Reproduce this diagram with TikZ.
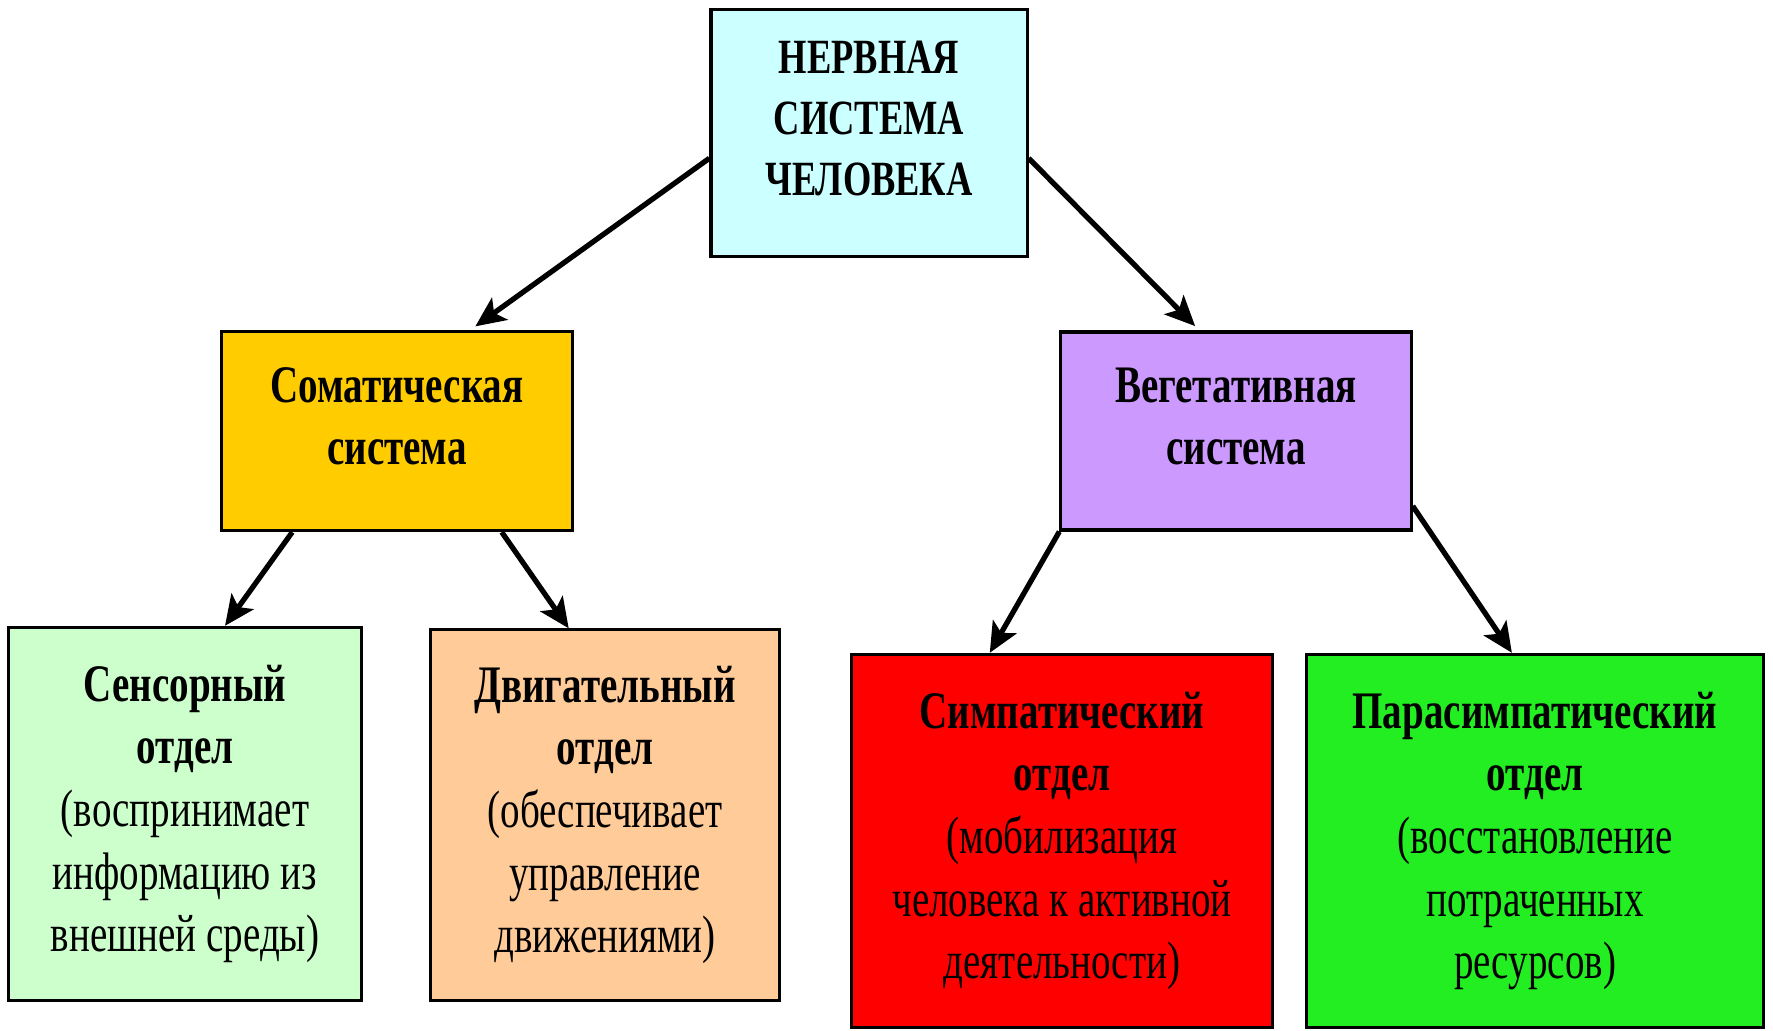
\documentclass[tikz,border=0pt]{standalone}
\usepackage{fontspec}
\setmainfont{Liberation Serif}[FakeStretch=0.74]
\usetikzlibrary{arrows.meta}
\definecolor{nervcyan}{HTML}{CCFFFF}
\definecolor{somagold}{HTML}{FFCC00}
\definecolor{vegviolet}{HTML}{CC99FF}
\definecolor{sensgreen}{HTML}{CCFFCC}
\definecolor{motorpeach}{HTML}{FFCC99}
\definecolor{sympred}{HTML}{FF0000}
\definecolor{paragreen}{HTML}{22EE22}
\begin{document}
\begin{tikzpicture}[x=0.01cm,y=-0.01cm,
  box/.style={shape=rectangle,draw=black,line width=0.9pt,align=center,inner sep=0pt,
    font=\fontsize{15}{17.8}\selectfont},
  arr/.style={-{Stealth[length=0.3cm,width=0.27cm,inset=0.07cm]},line width=1.5pt}]
  \fill[white] (0,0) rectangle (1773,1030);
  \useasboundingbox (0,0) rectangle (1773,1030);
  \node[box,fill=nervcyan,minimum width=3.16cm,minimum height=2.47cm,font=\fontsize{14}{17.3}\selectfont\bfseries] (nerv) at (869,133) {НЕРВНАЯ\\СИСТЕМА\\ЧЕЛОВЕКА\\[-9pt]\mbox{}};
  \node[box,fill=somagold,minimum width=3.5cm,minimum height=1.99cm,font=\fontsize{15}{17.6}\selectfont\bfseries] (soma) at (397,431) {Соматическая\\система\\[-9pt]\mbox{}};
  \node[box,fill=vegviolet,minimum width=3.5cm,minimum height=1.98cm,font=\fontsize{15}{17.6}\selectfont\bfseries] (veg) at (1236,431) {Вегетативная\\система\\[-9pt]\mbox{}};
  \node[box,fill=sensgreen,minimum width=3.52cm,minimum height=3.73cm] (sens) at (185,814) {\textbf{Сенсорный}\\\textbf{отдел}\\(воспринимает\\информацию из\\внешней среды)};
  \node[box,fill=motorpeach,minimum width=3.49cm,minimum height=3.7cm] (motor) at (605,815) {\textbf{Двигательный}\\\textbf{отдел}\\(обеспечивает\\управление\\движениями)};
  \node[box,fill=sympred,minimum width=4.21cm,minimum height=3.73cm] (symp) at (1062,841) {\textbf{Симпатический}\\\textbf{отдел}\\(мобилизация\\человека к активной\\деятельности)};
  \node[box,fill=paragreen,minimum width=4.56cm,minimum height=3.73cm] (para) at (1535,841) {\textbf{Парасимпатический}\\\textbf{отдел}\\(восстановление\\потраченных\\ресурсов)};
  \path [arr](nerv.189) edge[shorten >=0.06cm] (soma.54);
  \path [arr](nerv.351) edge[shorten >=0.06cm] (veg.110);
  \path [arr](soma.224) edge (sens.78);
  \path [arr](soma.316) edge (motor.101);
  \path [arr](veg.south west) edge (symp.111);
  \path [arr](veg.337) edge (para.97);
\end{tikzpicture}
\end{document}
